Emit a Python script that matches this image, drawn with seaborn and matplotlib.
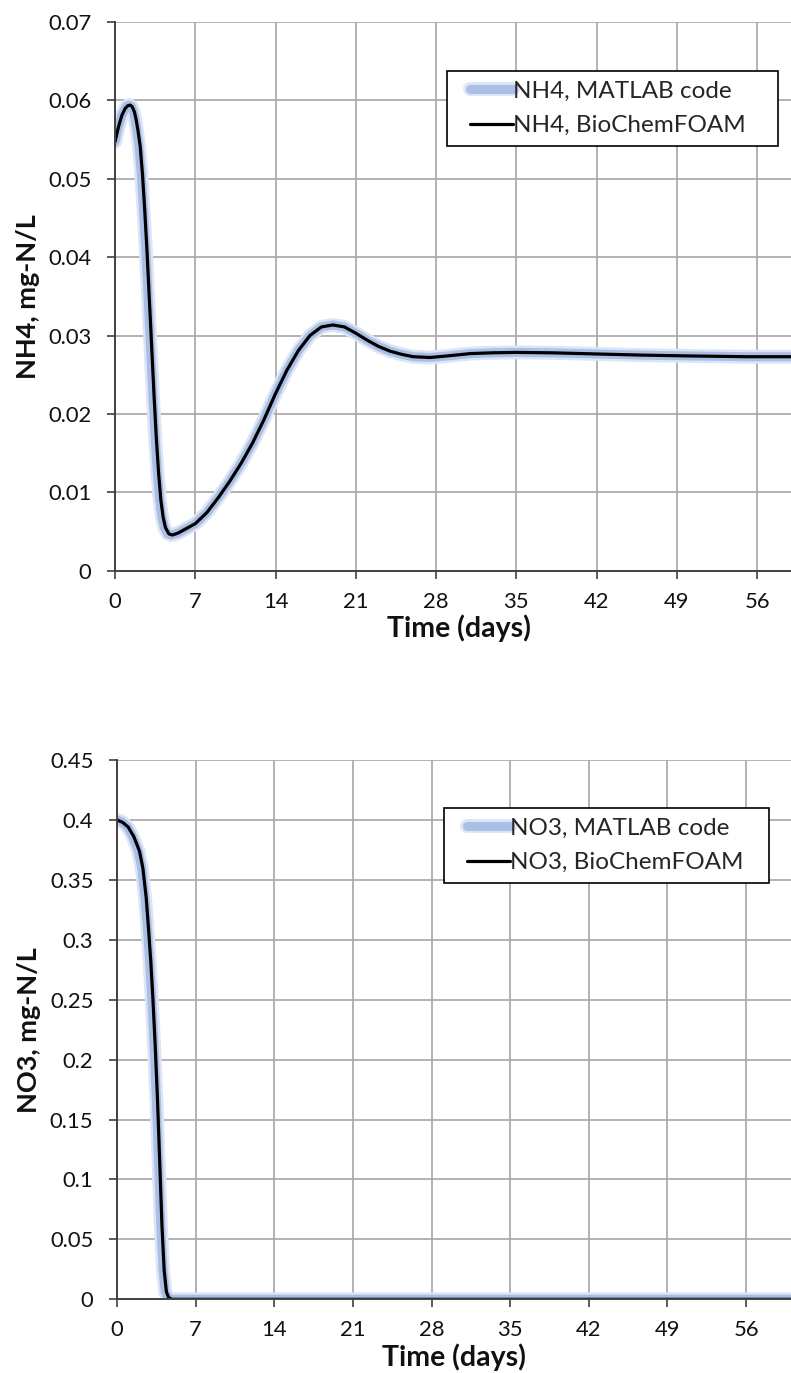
import numpy as np
import pandas as pd
import matplotlib
matplotlib.use("Agg")
import matplotlib.pyplot as plt
import matplotlib.patheffects as pe
from matplotlib.lines import Line2D
from matplotlib.legend_handler import HandlerLine2D
import seaborn as sns

# ---------------- data ----------------
nh4_time = [0, 0.3, 0.6, 0.9, 1.1, 1.3, 1.5, 1.7, 1.85, 2.0, 2.2, 2.4, 2.6, 2.8, 3.0, 3.2,
            3.4, 3.6, 3.8, 4.0, 4.2, 4.4, 4.7, 5.0, 5.5, 6.0, 7.0, 8.0, 9.0, 10.0, 11.0,
            12.0, 13.0, 14.0, 15.0, 16.0, 17.0, 18.0, 19.0, 20.0, 21.0, 22.0, 23.0, 24.0,
            25.0, 26.0, 27.5, 29.0, 31.0, 33.0, 35.0, 38.0, 42.0, 46.0, 50.0, 55.0, 60.0]
nh4_foam = [0.0547, 0.0566, 0.0581, 0.0590, 0.0593, 0.0594, 0.0592, 0.0585, 0.0575,
            0.0562, 0.0541, 0.0505, 0.0458, 0.0405, 0.0345, 0.0285, 0.0225, 0.0170,
            0.0125, 0.0090, 0.0068, 0.0055, 0.0047, 0.00455, 0.0048, 0.0052, 0.0060,
            0.0074, 0.0093, 0.0114, 0.0137, 0.0163, 0.0193, 0.0226, 0.0256, 0.0281,
            0.0300, 0.0311, 0.03135, 0.0311, 0.0303, 0.0294, 0.0286, 0.0280, 0.0276,
            0.0273, 0.0272, 0.0274, 0.0277, 0.0278, 0.02785, 0.0278, 0.02765, 0.0275,
            0.0274, 0.0273, 0.0273]
nh4_matlab_time = [0, 0.3, 0.6, 0.9, 1.05, 1.25, 1.45, 1.62, 1.77, 1.9, 2.1, 2.3, 2.5, 2.7,
                   2.9, 3.1, 3.3, 3.5, 3.7, 3.9, 4.1, 4.3, 4.6, 4.9, 5.5, 6.0, 7.0, 8.0,
                   9.0, 10.0, 11.0, 12.0, 13.0, 14.0, 15.0, 16.0, 17.0, 18.0, 19.0, 20.0,
                   21.0, 22.0, 23.0, 24.0, 25.0, 26.0, 27.5, 29.0, 31.0, 33.0, 35.0, 38.0,
                   42.0, 46.0, 50.0, 55.0, 60.0]
nh4_matlab = nh4_foam

no3_time = [0, 0.5, 1.0, 1.5, 2.0, 2.3, 2.6, 2.8, 3.0, 3.2, 3.4, 3.6, 3.8, 4.0, 4.2,
            4.4, 4.6, 4.9, 7, 14, 21, 28, 35, 42, 49, 56, 60]
no3_foam = [0.400, 0.398, 0.394, 0.386, 0.374, 0.360, 0.335, 0.310, 0.283, 0.250,
            0.212, 0.168, 0.115, 0.062, 0.024, 0.006, 0.0015, 0.0, 0, 0, 0, 0, 0, 0,
            0, 0, 0]
no3_matlab_time = [0, 0.5, 0.95, 1.4, 1.9, 2.2, 2.5, 2.7, 2.9, 3.1, 3.3, 3.5, 3.7, 3.9,
                   4.1, 4.3, 4.5, 4.8, 7, 14, 21, 28, 35, 42, 49, 56, 60]
no3_matlab = no3_foam

x_ticks = [0, 7, 14, 21, 28, 35, 42, 49, 56]
nh4_yticks = [0, 0.01, 0.02, 0.03, 0.04, 0.05, 0.06, 0.07]
nh4_ylabels = ["0", "0.01", "0.02", "0.03", "0.04", "0.05", "0.06", "0.07"]
no3_yticks = [0, 0.05, 0.1, 0.15, 0.2, 0.25, 0.3, 0.35, 0.4, 0.45]
no3_ylabels = ["0", "0.05", "0.1", "0.15", "0.2", "0.25", "0.3", "0.35", "0.4", "0.45"]

# ---------------- style ----------------
sns.set_theme(style="white")
plt.rcParams['font.family'] = ['Lato', 'DejaVu Sans']

W, H = 791, 1373
fig = plt.figure(figsize=(W / 100, H / 100), dpi=100)

BLUE = "#A9BFE5"
GLOW = "#DCE5F4"
GRID = "#A6A6A6"
AX = "#404040"
TXT = "#111111"


class RightHandler(HandlerLine2D):
    """Draw the legend line only in the right part of the handle box."""
    def get_xdata(self, legend, xdescent, ydescent, width, height, fontsize):
        x = np.array([-xdescent + width * 0.24, -xdescent + width])
        return x, x


def panel(rect, t_m, y_m, t_f, y_f, xmax, ymax, yticks, ylabels, ylabel, names, leg_anchor):
    ax = fig.add_axes(rect)
    dm = pd.DataFrame({"t": t_m, "v": y_m})
    df = pd.DataFrame({"t": t_f, "v": y_f})
    sns.lineplot(data=dm, x="t", y="v", ax=ax, color=BLUE, lw=6.5, sort=False,
                 estimator=None, solid_capstyle="round", solid_joinstyle="round",
                 path_effects=[pe.Stroke(linewidth=10, foreground=GLOW), pe.Normal()])
    sns.lineplot(data=df, x="t", y="v", ax=ax, color="black", lw=2.3, sort=False,
                 estimator=None, solid_joinstyle="round")
    ax.set_xlim(0, xmax)
    ax.set_ylim(0, ymax)
    ax.set_xticks(x_ticks)
    ax.set_xticklabels([str(v) for v in x_ticks])
    ax.set_yticks(yticks)
    ax.set_yticklabels(ylabels)
    ax.grid(True, color=GRID, lw=1.2)
    ax.set_axisbelow(True)
    for s in ["top", "right"]:
        ax.spines[s].set_visible(False)
    for s in ["left", "bottom"]:
        ax.spines[s].set_color(AX)
        ax.spines[s].set_linewidth(1.4)
        ax.spines[s].set_zorder(3)
    ax.tick_params(axis="both", direction="out", length=6, width=1.2, color=AX,
                   labelsize=15.8, labelcolor=TXT, left=True, bottom=True)
    ax.tick_params(axis="x", pad=9)
    ax.tick_params(axis="y", pad=11)
    ax.set_xlabel("Time (days)", fontsize=20.5, fontweight="bold", labelpad=2,
                  color=TXT)
    ax.set_ylabel(ylabel, fontsize=19.5, fontweight="bold", labelpad=6, color=TXT)
    h1 = Line2D([], [], color=BLUE, lw=6.5, solid_capstyle="round",
                path_effects=[pe.Stroke(linewidth=10, foreground=GLOW), pe.Normal()])
    h2 = Line2D([], [], color="black", lw=2.3)
    leg = ax.legend([h1, h2], names, loc="upper left", bbox_to_anchor=leg_anchor,
                    mode="expand", fontsize=17.5, frameon=True, fancybox=False,
                    edgecolor="black", framealpha=1, handlelength=2.3,
                    handletextpad=0.0, labelspacing=0.55, borderpad=0.4,
                    borderaxespad=0,
                    handler_map={Line2D: RightHandler()})
    leg.get_frame().set_linewidth(1.2)
    return ax


# top panel (axes extends beyond the right edge of the figure)
top_rect = [115 / W, 1 - 570.7 / H, 688 / W, 548.7 / H]
panel(top_rect, nh4_matlab_time, nh4_matlab, nh4_time, nh4_foam, 60, 0.07,
      nh4_yticks, nh4_ylabels, "NH4, mg-N/L",
      ["NH4, MATLAB code", "NH4, BioChemFOAM"],
      ((447 - 115) / 688, (570.7 - 71) / 548.7, (778 - 447) / 688, 0))

bot_rect = [117 / W, 1 - 1299.3 / H, 674 / W, 539.3 / H]
panel(bot_rect, no3_matlab_time, no3_matlab, no3_time, no3_foam, 60, 0.45,
      no3_yticks, no3_ylabels, "NO3, mg-N/L",
      ["NO3, MATLAB code", "NO3, BioChemFOAM"],
      ((444 - 117) / 674, (1299.3 - 808) / 539.3, (769 - 444) / 674, 0))

fig.savefig("out.png", dpi=100, facecolor="white")
